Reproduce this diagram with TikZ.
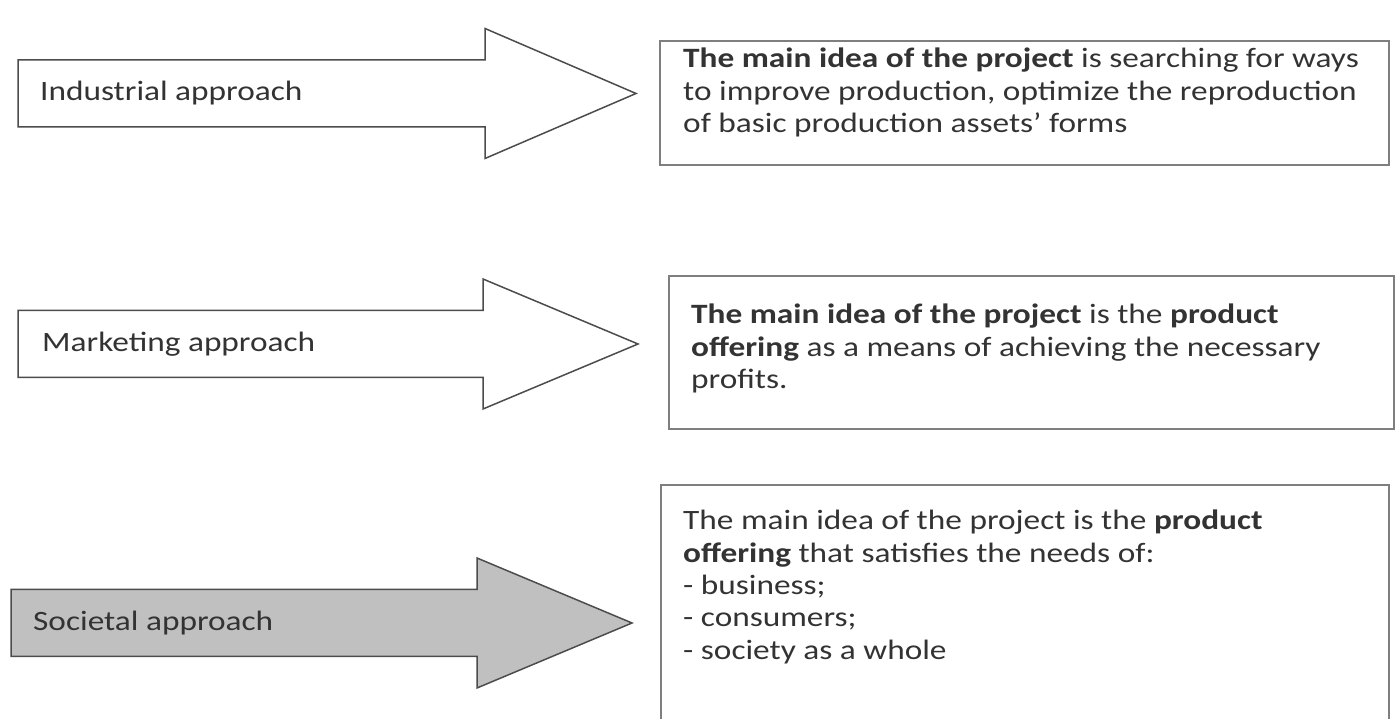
\documentclass[tikz,border=0pt]{standalone}
\usepackage{fontspec}
\setmainfont{Carlito}[FakeStretch=1.19]
\usepackage{xcolor}
\usetikzlibrary{positioning}

\definecolor{arrowgray}{HTML}{C0C0C0}
\definecolor{boxgray}{HTML}{7F7F7F}

\begin{document}
\begin{tikzpicture}[x=1pt,y=1pt]
    \tikzstyle{approach}=[draw=black!70,line width=1.5pt,line join=miter,fill=white]
    \tikzstyle{ideabox}=[draw=boxgray,line width=2pt,rectangle,anchor=north west,inner sep=0pt]
    \tikzstyle{label}=[anchor=west,inner sep=0pt,text=black!80,font=\fontsize{28}{32}\selectfont]
    \tikzstyle{idea}=[anchor=north west,inner sep=0pt,align=left,text=black!80,font=\fontsize{28}{32.3}\selectfont]

    \useasboundingbox (0,0) rectangle (1397,719);

    % approaches
    \draw[approach] (18,592) -- (485,592) -- (485,560.5) -- (636,625.5) -- (485,690.5) -- (485,659) -- (18,659) -- cycle;
    \draw[approach] (18,341.5) -- (483,341.5) -- (483,310) -- (638,375) -- (483,440) -- (483,408.5) -- (18,408.5) -- cycle;
    \draw[approach,fill=arrowgray] (11,62.5) -- (477,62.5) -- (477,31) -- (632,96) -- (477,161) -- (477,129.5) -- (11,129.5) -- cycle;

    \node[label] (ind) at (40,625.5) {Industrial approach};
    \node[label] (mkt) at (42,375) {Marketing approach};
    \node[label] (soc) at (33,96) {Societal approach};

    % ideas
    \node[ideabox,minimum width=729pt,minimum height=124pt] (box1) at (659,679) {};
    \node[ideabox,minimum width=725pt,minimum height=153pt] (box2) at (668,444) {};
    \node[ideabox,minimum width=728pt,minimum height=260pt] (box3) at (660,235) {};

    \node[idea] (idea1) at (683,671) {\textbf{The main idea of the project} is searching for ways\\
      to improve production, optimize the reproduction\\
      of basic production assets’ forms};
    \node[idea] (idea2) at (691,415) {\textbf{The main idea of the project} is the \textbf{product}\\
      \textbf{offering} as a means of achieving the necessary\\
      profits.};
    \node[idea] (idea3) at (683,209) {The main idea of the project is the \textbf{product}\\
      \textbf{offering} that satisfies the needs of:\\
      - business;\\
      - consumers;\\
      - society as a whole};
\end{tikzpicture}
\end{document}
